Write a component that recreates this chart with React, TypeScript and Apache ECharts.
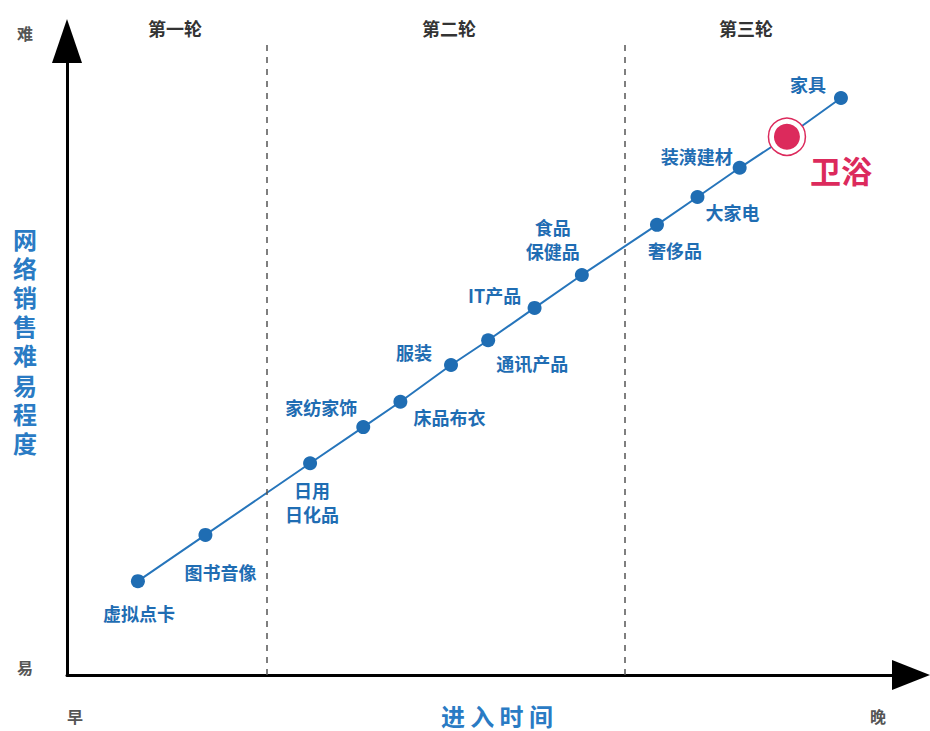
import React, { useEffect, useRef } from "react";
import * as echarts from "echarts";

const categories = ["虚拟点卡", "图书音像", "日用\n日化品", "家纺家饰", "床品布衣", "服装", "通讯产品", "IT产品", "食品\n保健品", "奢侈品", "大家电", "装潢建材", "卫浴", "家具"];
const entryTime = [8.4, 16.4, 28.8, 35.1, 39.5, 45.5, 49.9, 55.4, 61.0, 69.9, 74.7, 79.7, 85.3, 91.7];
const difficulty = [14.8, 22.1, 33.4, 39.1, 43.1, 48.9, 52.8, 57.9, 63.1, 71.0, 75.4, 80.0, 84.9, 91.0];
const roundBoundaries = [23.7, 66.1];
const roundNames = ["第一轮", "第二轮", "第三轮"];
const highlightName = "卫浴";
const yAxisTitle = "网络销售难易程度";
const xAxisTitle = "进入时间";

const BLUE = "#1f6db3";
const TITLE_BLUE = "#2a7bc4";
const RED = "#dc2a5c";
const FONT = "'Noto Sans CJK SC', 'Noto Sans', sans-serif";

// label offsets (style only)
const labelOffsets: Record<string, [number, number]> = {
  "虚拟点卡": [1, 32],
  "图书音像": [15, 37],
  "日用\n日化品": [2, 39],
  "家纺家饰": [-42, -20],
  "床品布衣": [49, 15],
  "服装": [-37, -13],
  "通讯产品": [44, 23],
  "IT产品": [-40, -13],
  "食品\n保健品": [-29, -36],
  "奢侈品": [18, 25],
  "大家电": [35, 15],
  "装潢建材": [-43, -12],
  "卫浴": [54, 33],
  "家具": [-33, -14],
};

export default function App() {
  const ref = useRef<HTMLDivElement>(null);
  useEffect(() => {
    if (!ref.current) return;
    const chart = echarts.init(ref.current, undefined, { renderer: "svg" });
    const lineData = categories.map((name, i) => {
      const isHi = name === highlightName;
      const off = labelOffsets[name] || [0, 0];
      return {
        name,
        value: [entryTime[i], difficulty[i]],
        symbolSize: isHi ? 0 : 14,
        label: isHi
          ? {
              show: true,
              position: "inside",
              offset: off,
              formatter: "{b}",
              color: RED,
              fontSize: 31,
              fontWeight: "bold",
              fontFamily: FONT,
            }
          : {
              show: true,
              position: "inside",
              offset: off,
              formatter: "{b}",
              color: BLUE,
              fontSize: 18,
              lineHeight: 24,
              fontWeight: "bold",
              fontFamily: FONT,
              align: "center",
              verticalAlign: "middle",
            },
      };
    });
    const hiIndex = categories.indexOf(highlightName);
    const hiPoint = [entryTime[hiIndex], difficulty[hiIndex]];

    const roundX = [175, 449, 746];
    const cornerText = (text: string, x: number, y: number) => ({
      type: "text",
      x,
      y,
      style: {
        text,
        fill: "#555",
        font: `bold 16px ${FONT}`,
        textAlign: "center",
        textVerticalAlign: "middle",
      },
    });
    const titleChar = (ch: string, x: number, y: number) => ({
      type: "text",
      x,
      y,
      style: {
        text: ch,
        fill: TITLE_BLUE,
        font: `bold 24px ${FONT}`,
        lineHeight: 24,
        textAlign: "center",
        textVerticalAlign: "middle",
      },
    });

    chart.setOption({
      animation: false,
      grid: { left: 67, right: 19, top: 41, bottom: 56, outerBoundsMode: "none", containLabel: false },
      xAxis: {
        type: "value",
        min: 0,
        max: 100,
        axisLine: {
          show: true,
          lineStyle: { color: "#000", width: 3 },
          symbol: ["none", "triangle"],
          symbolSize: [30, 38],
        },
        axisTick: { show: false },
        axisLabel: { show: false },
        splitLine: { show: false },
      },
      yAxis: {
        type: "value",
        min: 0,
        max: 100,
        axisLine: {
          show: true,
          lineStyle: { color: "#000", width: 3 },
          symbol: ["none", "triangle"],
          symbolSize: [30, 44],
        },
        axisTick: { show: false },
        axisLabel: { show: false },
        splitLine: { show: false },
      },
      graphic: [
        cornerText("难", 25, 33),
        cornerText("易", 25, 667),
        cornerText("早", 75, 716),
        cornerText("晚", 878, 716),
        ...yAxisTitle.split("").map((ch, i) => titleChar(ch, 25, 238 + i * 29.2)),
        ...xAxisTitle.split("").map((ch, i) => titleChar(ch, 453 + i * 29.3, 715)),
        ...roundNames.map((t, i) => ({
          type: "text",
          x: roundX[i],
          y: 28,
          style: {
            text: t,
            fill: "#333",
            font: `bold 18px ${FONT}`,
            textAlign: "center",
            textVerticalAlign: "middle",
          },
        })),
      ],
      series: [
        {
          type: "line",
          data: lineData,
          symbol: "circle",
          lineStyle: { color: "#2675bb", width: 2 },
          itemStyle: { color: "#1f6db3" },
          z: 3,
          markLine: {
            silent: true,
            symbol: "none",
            label: { show: false },
            lineStyle: { color: "#555", width: 1.5, type: [6, 6] },
            data: roundBoundaries.map((x) => ({ xAxis: x })),
          },
        },
        {
          type: "scatter",
          data: [hiPoint],
          symbol: "circle",
          symbolSize: 37,
          itemStyle: { color: "#fff", borderColor: RED, borderWidth: 1.5, opacity: 1 },
          z: 4,
        },
        {
          type: "scatter",
          data: [hiPoint],
          symbol: "circle",
          symbolSize: 26,
          itemStyle: { color: RED, opacity: 1 },
          z: 5,
        },
      ],
    });
    return () => chart.dispose();
  }, []);
  return (
    <div
      ref={ref}
      style={{ position: "absolute", left: 0, top: 0, width: 930, height: 731, overflow: "hidden" }}
    />
  );
}
